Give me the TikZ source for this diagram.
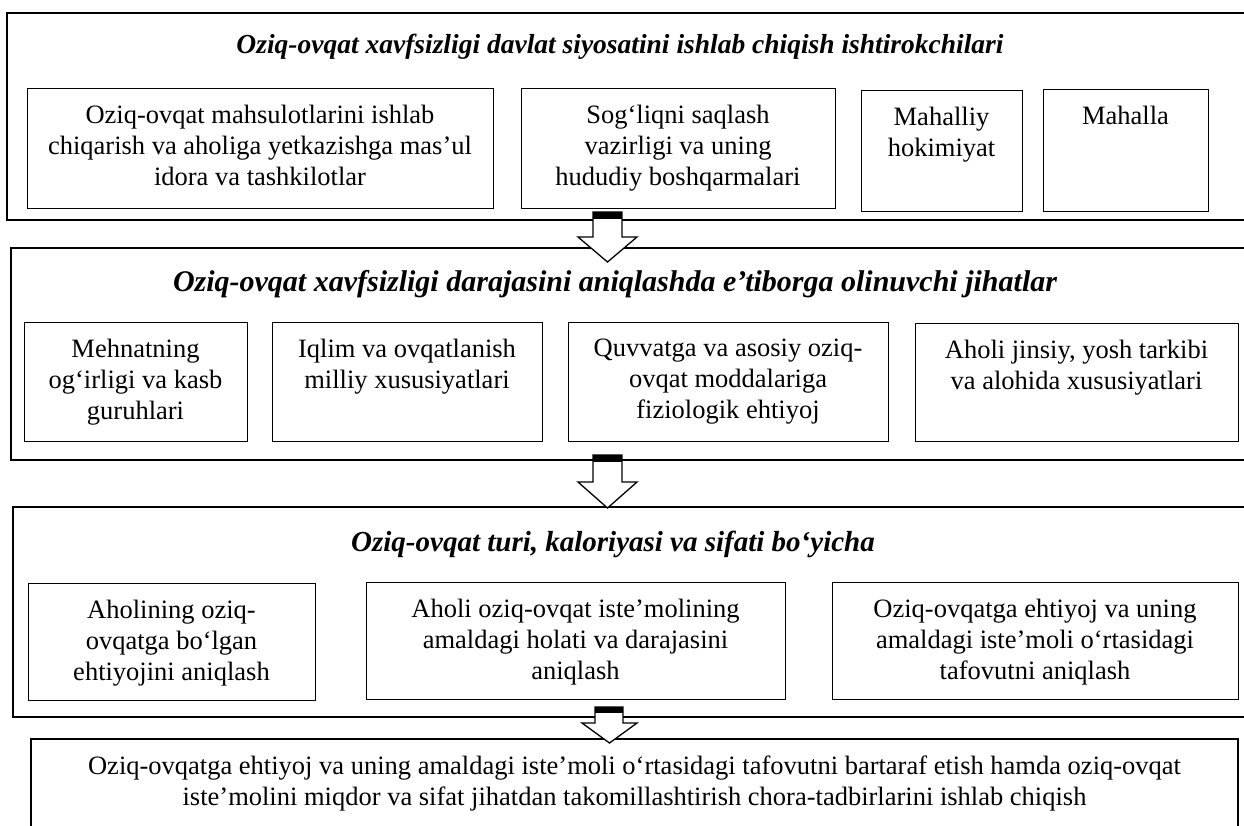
\documentclass[tikz,border=0pt]{standalone}
\usepackage{fontspec}
\setmainfont{Liberation Serif}
\usetikzlibrary{fit}
\tikzset{
  obox/.style={draw, line width=1.8pt, inner sep=0pt},
  ibox/.style={draw, line width=0.9pt, inner sep=0pt},
  itext/.style={anchor=north, align=center, inner sep=0pt, font=\fontsize{26.5}{31}\selectfont},
  ttext/.style={anchor=base, inner sep=0pt, font=\fontsize{27.5}{30}\selectfont\bfseries\itshape},
  barrow/.style={draw, line width=1.3pt, fill=white, line join=miter},
  bcap/.style={fill=black},
}
\newcommand\ibx[6]{%
  \node[ibox, fit={(#2,#3) (#4,#5)}] (#1) {};
  \node[itext] (#1t) at ([yshift=-17pt]#1.north) {#6};}
\begin{document}
\begin{tikzpicture}[x=1pt, y=-1pt]
\useasboundingbox (0,0) rectangle (1244,825);
\clip (0,0) rectangle (1244,825);
\fill[white] (0,0) rectangle (1244,825);
% outer boxes
\node[obox, fit={(7,13) (1270,220)}] (o1) {};
\node[obox, fit={(11,248) (1270,460)}] (o2) {};
\node[obox, fit={(13,507) (1270,717)}] (o3) {};
\node[obox, fit={(31,739) (1238,870)}] (o4) {};
% titles
\node[ttext] (t1) at (620,53) {Oziq-ovqat xavfsizligi davlat siyosatini ishlab chiqish ishtirokchilari};
\node[ttext, font=\fontsize{30}{32}\selectfont\bfseries\itshape] (t2) at (615,291) {Oziq-ovqat xavfsizligi darajasini aniqlashda e’tiborga olinuvchi jihatlar};
\node[ttext, font=\fontsize{29}{31}\selectfont\bfseries\itshape] (t3) at (613,551) {Oziq-ovqat turi, kaloriyasi va sifati bo‘yicha};
% row 1
\ibx{a1}{27}{88}{493}{208}{Oziq-ovqat mahsulotlarini ishlab\\chiqarish va aholiga yetkazishga mas’ul\\idora va tashkilotlar}
\ibx{a2}{521}{88}{835}{208}{Sog‘liqni saqlash\\vazirligi va uning\\hududiy boshqarmalari}
\ibx{a3}{861}{90}{1022}{211}{Mahalliy\\hokimiyat}
\ibx{a4}{1043}{89}{1208}{211}{Mahalla}
% row 2
\ibx{b1}{24}{322}{247}{441}{Mehnatning\\og‘irligi va kasb\\guruhlari}
\ibx{b2}{272}{322}{542}{441}{Iqlim va ovqatlanish\\milliy xususiyatlari}
\ibx{b3}{568}{322}{888}{441}{Quvvatga va asosiy oziq-\\ovqat moddalariga\\fiziologik ehtiyoj}
\ibx{b4}{915}{323}{1238}{441}{Aholi jinsiy, yosh tarkibi\\va alohida xususiyatlari}
% row 3
\ibx{c1}{28}{583}{315}{700}{Aholining oziq-\\ovqatga bo‘lgan\\ehtiyojini aniqlash}
\ibx{c2}{366}{582}{785}{699}{Aholi oziq-ovqat iste’molining\\amaldagi holati va darajasini\\aniqlash}
\ibx{c3}{832}{582}{1238}{699}{Oziq-ovqatga ehtiyoj va uning\\amaldagi iste’moli o‘rtasidagi\\tafovutni aniqlash}
% bottom text
\node[itext] (o4t) at ([yshift=-18pt]o4.north) {Oziq-ovqatga ehtiyoj va uning amaldagi iste’moli o‘rtasidagi tafovutni bartaraf etish hamda oziq-ovqat\\iste’molini miqdor va sifat jihatdan takomillashtirish chora-tadbirlarini ishlab chiqish};
% block arrows
\draw[barrow] (593,212) -- (622,212) -- (622,237) -- (637,237) -- (607.5,262) -- (578,237) -- (593,237) -- cycle;
\fill[bcap] (593,212) rectangle (622,219);
\draw[barrow] (593,455) -- (622,455) -- (622,482) -- (637,482) -- (607.5,508) -- (578,482) -- (593,482) -- cycle;
\fill[bcap] (593,455) rectangle (622,462);
\draw[barrow] (595,707) -- (623,707) -- (623,723) -- (637,723) -- (609.5,743) -- (582,723) -- (595,723) -- cycle;
\fill[bcap] (595,707) rectangle (623,713);
\end{tikzpicture}
\end{document}
